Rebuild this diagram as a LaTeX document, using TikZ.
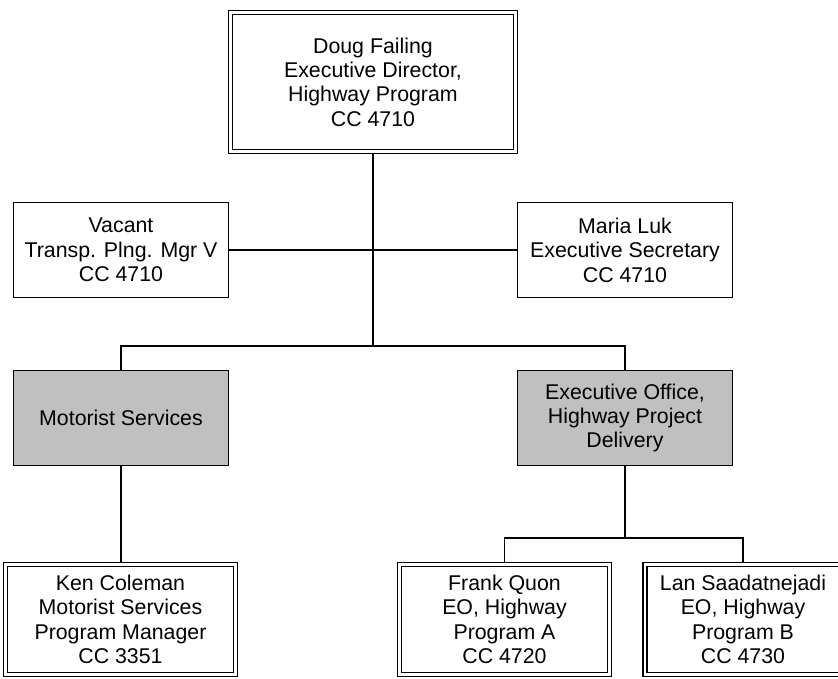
\documentclass[tikz,border=0pt]{standalone}
\usepackage{fontspec}
\setmainfont{Liberation Sans}
\usetikzlibrary{positioning}

\begin{document}
\begin{tikzpicture}[x=0.75pt, y=-0.75pt,
  orgbox/.style={draw, line width=1.1pt, align=center, inner sep=0pt,
    font=\fontsize{16}{18.3}\selectfont, minimum width=161pt, minimum height=71pt},
  deptbox/.style={orgbox, fill=deptgray},
  headbox/.style={orgbox, line width=0.9pt, double, double distance=2.1pt, outer sep=1.95pt},
  link/.style={line width=1.1pt}]
\definecolor{deptgray}{HTML}{C0C0C0}
\useasboundingbox (0,0) rectangle (838,678);

% Director
\node[headbox, minimum width=213.6pt, minimum height=104.1pt] (dir) at (373,82)
  {Doug Failing\\Executive Director,\\Highway Program\\CC 4710};

% Staff
\node[orgbox] (vac) at (121,250) {Vacant\\Transp. Plng. Mgr V\\CC 4710};
\node[orgbox] (sec) at (625,250) {Maria Luk\\Executive Secretary\\CC 4710};

% Divisions
\node[deptbox] (ms) at (121,418) {Motorist Services};
\node[deptbox] (eo) at (625,418) {Executive Office,\\Highway Project\\Delivery};

% Managers
\node[headbox, minimum width=172.4pt, minimum height=82.4pt] (ken) at (120.5,619.5)
  {Ken Coleman\\Motorist Services\\Program Manager\\CC 3351};
\node[headbox, minimum width=157.4pt, minimum height=82.4pt] (frank) at (504.5,619.5)
  {Frank Quon\\EO, Highway\\Program A\\CC 4720};
\node[headbox, minimum width=147pt, minimum height=82.4pt] (lan) at (743,619.5)
  {Lan Saadatnejadi\\EO, Highway\\Program B\\CC 4730};

\coordinate (hub) at (373,346);
\coordinate (fork) at (625,538);

% Connectors
\draw[link] (dir.south) -- (hub);
\draw[link] (vac.east) -- (sec.west);
\draw[link] (ms.north) |- (hub) -| (eo.north);
\draw[link] (ms.south) -- (ms.south |- ken.north);
\draw[link] (eo.south) -- (fork);
\draw[link] (frank.north) |- (fork) -| (lan.north);
\end{tikzpicture}
\end{document}
